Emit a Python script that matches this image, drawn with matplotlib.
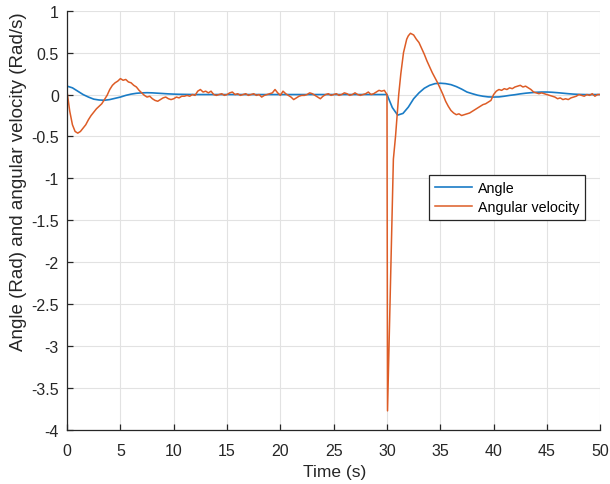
import numpy as np
import matplotlib
matplotlib.use("Agg")
import matplotlib.pyplot as plt

plt.rcParams['font.family'] = ['Liberation Sans', 'DejaVu Sans']
plt.rcParams['axes.unicode_minus'] = False

# angle, sampled every 0.5 s
t_angle = np.arange(0, 50.01, 0.5)
angle = [
    0.10, 0.08, 0.04, 0.00, -0.03, -0.055, -0.065, -0.068, -0.06, -0.045,
    -0.03, -0.01, 0.005, 0.015, 0.02, 0.022, 0.02, 0.016, 0.012, 0.008,
    0.005, 0.003, 0.002, 0.001, 0.0, 0.0, 0.0, 0.0, 0.0, 0.0,
    0.0, 0.0, 0.0, 0.0, 0.0, 0.0, 0.0, 0.0, 0.0, 0.0,
    0.0, 0.0, 0.0, 0.0, 0.0, 0.0, 0.0, 0.0, 0.0, 0.0,
    0.0, 0.0, 0.0, 0.0, 0.0, 0.0, 0.0, 0.0, 0.0, 0.0,
    0.0, -0.155, -0.245, -0.225, -0.15, -0.05, 0.02, 0.075, 0.11, 0.13,
    0.135, 0.13, 0.118, 0.095, 0.065, 0.03, 0.01, -0.008, -0.02, -0.028,
    -0.03, -0.028, -0.02, -0.01, -0.002, 0.008, 0.016, 0.022, 0.027, 0.03,
    0.03, 0.027, 0.022, 0.016, 0.01, 0.005, 0.002, 0.0, -0.001, 0.0,
    0.0,
]

# angular velocity, 0.25 s samples plus the kick around t = 30 s
t_vel_a = np.arange(0, 30.01, 0.25)
vel_a = [
    0.03, -0.20, -0.36, -0.44, -0.46, -0.44, -0.40, -0.36, -0.30, -0.25,
    -0.21, -0.17, -0.14, -0.11, -0.06, -0.01, 0.06, 0.11, 0.14, 0.16,
    0.19, 0.17, 0.18, 0.15, 0.14, 0.11, 0.09, 0.05, 0.02, -0.01,
    -0.03, -0.02, -0.05, -0.07, -0.08, -0.06, -0.04, -0.03, -0.05, -0.06,
    -0.05, -0.03, -0.04, -0.02, -0.02, -0.01, -0.02, 0.0, -0.01, 0.04,
    0.06, 0.03, 0.04, 0.02, 0.04, 0.00, -0.01, 0.00, 0.01, -0.01,
    0.00, 0.02, 0.03, 0.00, 0.01, -0.01, 0.00, 0.01, -0.01, 0.00,
    0.01, -0.01, 0.00, -0.03, -0.01, 0.00, 0.01, 0.02, 0.06, 0.02,
    -0.01, 0.04, 0.01, -0.01, -0.03, -0.06, -0.04, -0.02, -0.01, -0.01,
    0.00, 0.02, 0.01, -0.01, -0.03, -0.05, -0.02, 0.00, 0.01, -0.01,
    0.00, 0.01, -0.01, 0.00, 0.02, 0.01, -0.01, 0.00, 0.02, 0.00,
    -0.01, 0.00, 0.01, 0.03, 0.00, 0.01, 0.03, 0.05, 0.04, 0.05,
    0.0,
]
t_vel_b = [30.05, 30.6, 30.8, 31.1, 31.3, 31.55, 31.85, 32.0, 32.2]
vel_b = [-3.77, -0.77, -0.50, 0.00, 0.25, 0.50, 0.66, 0.70, 0.73]
t_vel_c = np.arange(32.5, 50.01, 0.25)
vel_c = [
    0.71, 0.66, 0.62, 0.55, 0.48, 0.40, 0.33, 0.26, 0.20, 0.14,
    0.07, 0.00, -0.08, -0.14, -0.19, -0.22, -0.24, -0.23, -0.25, -0.24,
    -0.23, -0.22, -0.20, -0.18, -0.16, -0.14, -0.12, -0.11, -0.09, -0.07,
    0.00, 0.04, 0.06, 0.05, 0.07, 0.06, 0.08, 0.07, 0.09, 0.10,
    0.11, 0.09, 0.10, 0.08, 0.06, 0.03, 0.02, 0.01, 0.02, 0.01,
    0.00, -0.01, -0.02, -0.03, -0.05, -0.04, -0.06, -0.05, -0.06, -0.04,
    -0.03, -0.02, 0.00, -0.01, -0.02, 0.00, -0.01, 0.01, -0.02, 0.00,
    0.00,
]
t_vel = np.concatenate([t_vel_a, t_vel_b, t_vel_c])
vel = np.concatenate([vel_a, vel_b, vel_c])

yticks = [-4, -3.5, -3, -2.5, -2, -1.5, -1, -0.5, 0, 0.5, 1]
ytick_labels = ['-4', '-3.5', '-3', '-2.5', '-2', '-1.5', '-1', '-0.5', '0', '0.5', '1']
xticks = [0, 5, 10, 15, 20, 25, 30, 35, 40, 45, 50]

fig = plt.figure(figsize=(6.1, 4.85), dpi=100)
ax = fig.add_axes([0.110, 0.111, 0.874, 0.865])

ax.plot(t_angle, angle, color='#1a7cc6', linewidth=1.2, label='Angle')
ax.plot(t_vel, vel, color='#dd5c26', linewidth=1.1, label='Angular velocity')

ax.set_xlim(0, 50)
ax.set_ylim(-4, 1)
ax.set_xticks(xticks)
ax.set_xticklabels([str(x) for x in xticks])
ax.set_yticks(yticks)
ax.set_yticklabels(ytick_labels)

ax.grid(True, color='#e2e2e2', linewidth=0.8)
ax.set_axisbelow(True)
for side in ['top', 'right']:
    ax.spines[side].set_visible(False)
for side in ['left', 'bottom']:
    ax.spines[side].set_color('#262626')
    ax.spines[side].set_linewidth(0.9)
ax.tick_params(direction='in', length=4, width=0.9, colors='#262626',
               labelsize=11.5)
ax.tick_params(axis='x', pad=9)
ax.tick_params(axis='y', pad=6)

ax.set_xlabel('Time (s)', fontsize=12.5, color='#262626')
ax.set_ylabel('Angle (Rad) and angular velocity (Rad/s)', fontsize=13.5,
              color='#262626')
ax.xaxis.set_label_coords(0.502, -0.099)
ax.yaxis.set_label_coords(-0.0914, 0.595)
ax.xaxis.label.set_verticalalignment('center')
ax.yaxis.label.set_verticalalignment('center')

leg = ax.legend(loc='upper left', bbox_to_anchor=(0.679, 0.608), fontsize=10.3,
                fancybox=False, framealpha=1, edgecolor='#262626',
                handlelength=2.6, borderpad=0.4, labelspacing=0.35,
                handletextpad=0.4, borderaxespad=0)
leg.get_frame().set_linewidth(0.9)

fig.savefig('out.png', dpi=100)
